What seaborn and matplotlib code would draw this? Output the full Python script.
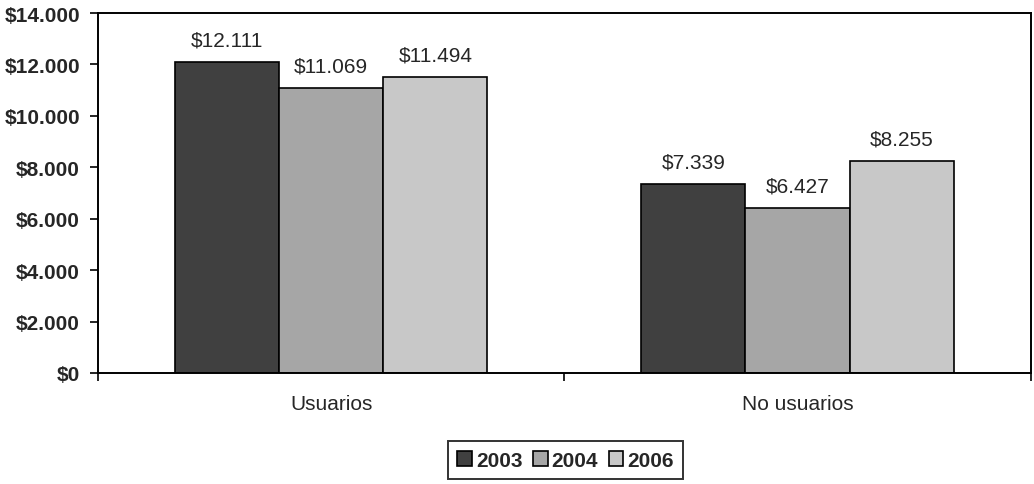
import pandas as pd
import seaborn as sns
import matplotlib.pyplot as plt
from matplotlib.patches import Patch

# datos del grafico
categorias = ["Usuarios", "No usuarios"]
anios = ["2003", "2004", "2006"]
valores_2003 = [12111, 7339]
valores_2004 = [11069, 6427]
valores_2006 = [11494, 8255]

filas = []
for anio, vals in zip(anios, [valores_2003, valores_2004, valores_2006]):
    for cat, v in zip(categorias, vals):
        filas.append({"Grupo": cat, "Año": anio, "Valor": v})
df = pd.DataFrame(filas)

sns.set_style("white")
plt.rcParams['font.family'] = ['Liberation Sans', 'DejaVu Sans']

colores = ["#404040", "#a6a6a6", "#c8c8c8"]

fig = plt.figure(figsize=(10.34, 4.85), dpi=100)
ax = fig.add_axes([0.0948, 0.229, 0.902, 0.742])
sns.barplot(data=df, x="Grupo", y="Valor", hue="Año", order=categorias, hue_order=anios,
            palette=colores, width=0.67, edgecolor="black", linewidth=1.2, saturation=1,
            legend=False, ax=ax)

def fmt(v):
    return "$" + f"{int(v):,}".replace(",", ".")

for cont in ax.containers:
    ax.bar_label(cont, labels=[fmt(b.get_height()) for b in cont], padding=9, fontsize=15)

ax.set_ylim(0, 14000)
ax.set_xlim(-0.5, 1.5)
ax.set_yticks(range(0, 14001, 2000))
ax.set_yticklabels([fmt(t) for t in range(0, 14001, 2000)], fontweight="bold", fontsize=15)
ax.set_xticks([0, 1])
ax.set_xticklabels(categorias, fontsize=15)
ax.set_xticks([-0.5, 0.5, 1.5], minor=True)
ax.tick_params(axis="x", which="major", length=0, pad=15)
ax.tick_params(axis="x", which="minor", length=6, width=1.2, color="black", direction="out", bottom=True)
ax.tick_params(axis="y", length=6, width=1.2, color="black", direction="out", left=True, pad=7)
ax.set_xlabel("")
ax.set_ylabel("")
for s in ax.spines.values():
    s.set_color("black")
    s.set_linewidth(1.4)

handles = [Patch(facecolor=c, edgecolor="black", linewidth=1.2) for c in colores]
leg = fig.legend(handles, anios, loc="center", bbox_to_anchor=(0.547, 0.049), ncol=3,
                 frameon=True, fancybox=False, edgecolor="black", handlelength=0.7,
                 handleheight=0.7, handletextpad=0.2, columnspacing=0.5,
                 prop={"weight": "bold", "size": 15}, borderpad=0.45)
leg.get_frame().set_linewidth(1.4)

plt.savefig("out.png", dpi=100)
